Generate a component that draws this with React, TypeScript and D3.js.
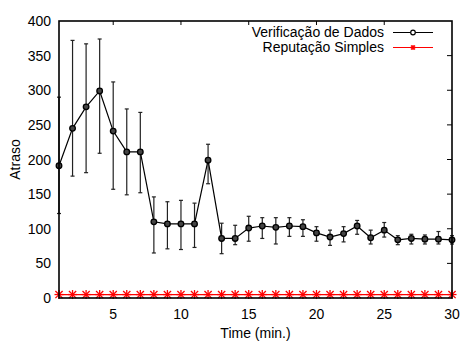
import React from 'react';
import * as d3 from 'd3';

// time (minutes) along x
const times = [1, 2, 3, 4, 5, 6, 7, 8, 9, 10, 11, 12, 13, 14, 15, 16, 17, 18, 19, 20, 21, 22, 23, 24, 25, 26, 27, 28, 29, 30];

// Verificação de Dados: mean delay and error bar limits
const verif = [191, 245, 276, 299, 241, 211, 211, 110, 107, 107, 107, 199, 86, 86, 101, 104, 102, 104, 103, 94, 88, 93, 104, 87, 98, 84, 86, 85, 85, 84];
const verifLow = [122, 176, 181, 209, 157, 149, 152, 65, 71, 70, 73, 165, 64, 77, 82, 86, 78, 89, 89, 82, 76, 81, 92, 78, 88, 77, 78, 78, 78, 78];
const verifHigh = [290, 372, 367, 374, 312, 273, 268, 146, 139, 141, 137, 222, 108, 105, 118, 116, 116, 116, 113, 103, 98, 103, 112, 98, 109, 90, 92, 91, 96, 90];

// Reputação Simples
const reput = [5, 5, 5, 5, 5, 5, 5, 5, 5, 5, 5, 5, 5, 5, 5, 5, 5, 5, 5, 5, 5, 5, 5, 5, 5, 5, 5, 5, 5, 5];

const xTicks = [5, 10, 15, 20, 25, 30];
const yTicks = [0, 50, 100, 150, 200, 250, 300, 350, 400];
const seriesNames = ['Verificação de Dados', 'Reputação Simples'];

const width = 464;
const height = 342;
const margin = { top: 21, right: 12, bottom: 44, left: 59 };
const font = '"Liberation Sans", Arial, sans-serif';

export default function App() {
  const x = d3.scaleLinear().domain([1, 30]).range([margin.left, width - margin.right]);
  const y = d3.scaleLinear().domain([0, 400]).range([height - margin.bottom, margin.top]);

  const line = d3.line<number>()
    .x((d, i) => x(times[i]))
    .y(d => y(d));

  const x0 = x.range()[0], x1 = x.range()[1];
  const y0 = y.range()[0], y1 = y.range()[1];

  const star = (cx: number, cy: number, s: number, key: string) => (
    <g key={key} stroke="#ff0000" strokeWidth={1.3}>
      <line x1={cx - s} y1={cy} x2={cx + s} y2={cy} />
      <line x1={cx} y1={cy - s} x2={cx} y2={cy + s} />
      <line x1={cx - s * 0.8} y1={cy - s * 0.8} x2={cx + s * 0.8} y2={cy + s * 0.8} />
      <line x1={cx - s * 0.8} y1={cy + s * 0.8} x2={cx + s * 0.8} y2={cy - s * 0.8} />
    </g>
  );

  return (
    <svg width={width} height={height} style={{ position: 'absolute', left: 0, top: 0, background: '#fff' }}
      fontFamily={font}>
      {/* ticks on top and right, pointing in */}
      {xTicks.filter(t => t < 30).map(t => (
        <line key={'tt' + t} x1={x(t)} x2={x(t)} y1={y1} y2={y1 + 4} stroke="#000" strokeWidth={1} />
      ))}
      {yTicks.filter(t => t > 0 && t < 400).map(t => (
        <line key={'rt' + t} x1={x1} x2={x1 - 5} y1={y(t)} y2={y(t)} stroke="#000" strokeWidth={1} />
      ))}

      {/* error bars */}
      {times.map((t, i) => (
        <g key={'eb' + t} stroke="#222" strokeWidth={1.2}>
          <line x1={x(t)} x2={x(t)} y1={y(verifLow[i])} y2={y(verifHigh[i])} />
          <line x1={x(t) - 2} x2={x(t) + 2} y1={y(verifLow[i])} y2={y(verifLow[i])} />
          <line x1={x(t) - 2} x2={x(t) + 2} y1={y(verifHigh[i])} y2={y(verifHigh[i])} />
        </g>
      ))}
      <path d={line(verif) || ''} fill="none" stroke="#000" strokeWidth={1.2} />
      {times.map((t, i) => (
        <circle key={'pt' + t} cx={x(t)} cy={y(verif[i])} r={2.8} fill="#444" stroke="#000" strokeWidth={1.3} />
      ))}

      {/* red series */}
      <path d={line(reput) || ''} fill="none" stroke="#ff0000" strokeWidth={1.2} />
      {times.map((t, i) => star(x(t), y(reput[i]), 4.5, 'st' + t))}

      {/* frame */}
      <rect x={x0} y={y1} width={x1 - x0} height={y0 - y1} fill="none" stroke="#000" strokeWidth={1.6} />

      {/* tick labels */}
      {yTicks.map(t => (
        <text key={'yl' + t} x={x0 - 8} y={y(t) + 5} textAnchor="end" fontSize={14} fill="#000">{t}</text>
      ))}
      {xTicks.map(t => (
        <text key={'xl' + t} x={x(t)} y={y0 + 21} textAnchor="middle" fontSize={14} fill="#000">{t}</text>
      ))}
      <text x={(x0 + x1) / 2} y={338} textAnchor="middle" fontSize={14} fill="#000">Time (min.)</text>
      <text transform={`translate(20,${(y0 + y1) / 2}) rotate(-90)`} textAnchor="middle" fontSize={14} fill="#000">Atraso</text>

      {/* legend */}
      <text x={384} y={37} textAnchor="end" fontSize={14} fill="#000">{seriesNames[0]}</text>
      <line x1={393} x2={433} y1={32.5} y2={32.5} stroke="#000" strokeWidth={1.2} />
      <circle cx={413} cy={32.5} r={2.3} fill="#fff" stroke="#000" strokeWidth={1.2} />
      <text x={384} y={52} textAnchor="end" fontSize={14} fill="#000">{seriesNames[1]}</text>
      <line x1={393} x2={433} y1={47.5} y2={47.5} stroke="#ff0000" strokeWidth={1.2} />
      {star(413, 47.5, 2.5, 'legstar')}
    </svg>
  );
}
